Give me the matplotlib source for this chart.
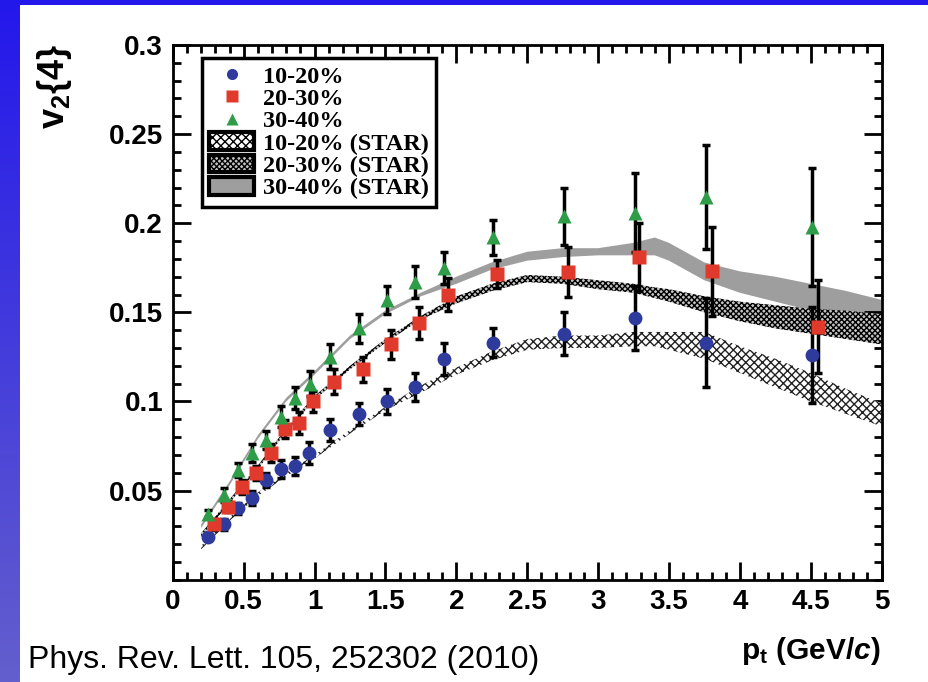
import numpy as np
import matplotlib
matplotlib.use('Agg')
import matplotlib.pyplot as plt
from matplotlib.lines import Line2D
from matplotlib.patches import Patch, Rectangle
from matplotlib.colors import LinearSegmentedColormap

# ---- data ----
pt_1020 = [0.25, 0.36, 0.46, 0.56, 0.66, 0.76, 0.86, 0.96, 1.11, 1.31, 1.51, 1.71, 1.91, 2.26, 2.76, 3.26, 3.76, 4.51]
v2_1020 = [0.024, 0.031, 0.040, 0.046, 0.056, 0.062, 0.064, 0.071, 0.084, 0.093, 0.100, 0.108, 0.124, 0.133, 0.138, 0.147, 0.133, 0.126]
err_1020 = [0.002, 0.003, 0.003, 0.004, 0.004, 0.005, 0.005, 0.006, 0.006, 0.006, 0.007, 0.008, 0.009, 0.008, 0.012, 0.018, 0.025, 0.027]

pt_2030 = [0.29, 0.39, 0.49, 0.59, 0.69, 0.79, 0.89, 0.99, 1.14, 1.34, 1.54, 1.74, 1.94, 2.29, 2.79, 3.29, 3.80, 4.55]
v2_2030 = [0.031, 0.041, 0.052, 0.060, 0.071, 0.0845, 0.088, 0.100, 0.111, 0.118, 0.132, 0.144, 0.160, 0.1715, 0.1725, 0.181, 0.173, 0.142]
err_2030 = [0.003, 0.003, 0.004, 0.004, 0.005, 0.005, 0.006, 0.006, 0.007, 0.007, 0.008, 0.009, 0.009, 0.008, 0.014, 0.019, 0.025, 0.026]

pt_3040 = [0.25, 0.36, 0.46, 0.56, 0.66, 0.76, 0.86, 0.97, 1.11, 1.31, 1.51, 1.71, 1.91, 2.26, 2.76, 3.26, 3.76, 4.51]
v2_3040 = [0.037, 0.0476, 0.0617, 0.071, 0.0785, 0.0914, 0.102, 0.110, 0.125, 0.141, 0.157, 0.167, 0.175, 0.192, 0.204, 0.206, 0.2147, 0.198]
err_3040 = [0.002, 0.004, 0.004, 0.005, 0.005, 0.006, 0.006, 0.007, 0.007, 0.008, 0.008, 0.009, 0.009, 0.010, 0.016, 0.022, 0.029, 0.033]

# STAR bands
star_pt = [0.2, 0.4, 0.6, 0.8, 1.0, 1.25, 1.5, 1.75, 2.0, 2.25, 2.5, 2.75, 3.0, 3.25, 3.4, 3.5, 3.75, 4.0, 4.25, 4.5, 4.75, 5.0]
star_1020_lo = [0.017, 0.033, 0.047, 0.058, 0.068, 0.082, 0.095, 0.105, 0.115, 0.123, 0.129, 0.130, 0.130, 0.131, 0.131, 0.129, 0.124, 0.116, 0.108, 0.100, 0.093, 0.086]
star_1020_hi = [0.019, 0.035, 0.049, 0.060, 0.070, 0.084, 0.097, 0.109, 0.119, 0.128, 0.135, 0.137, 0.137, 0.139, 0.139, 0.139, 0.139, 0.131, 0.124, 0.116, 0.107, 0.099]
star_2030_lo = [0.024, 0.043, 0.062, 0.083, 0.101, 0.118, 0.133, 0.146, 0.155, 0.162, 0.167, 0.166, 0.163, 0.161, 0.158, 0.156, 0.150, 0.145, 0.141, 0.138, 0.135, 0.132]
star_2030_hi = [0.026, 0.045, 0.064, 0.085, 0.103, 0.120, 0.135, 0.148, 0.159, 0.166, 0.171, 0.170, 0.168, 0.166, 0.164, 0.163, 0.159, 0.156, 0.154, 0.152, 0.151, 0.149]
star_3040_lo = [0.029, 0.053, 0.079, 0.100, 0.115, 0.135, 0.149, 0.159, 0.166, 0.174, 0.179, 0.181, 0.182, 0.182, 0.182, 0.179, 0.168, 0.161, 0.156, 0.151, 0.149, 0.147]
star_3040_hi = [0.031, 0.055, 0.081, 0.102, 0.117, 0.137, 0.151, 0.161, 0.170, 0.178, 0.184, 0.186, 0.186, 0.189, 0.192, 0.189, 0.178, 0.173, 0.170, 0.166, 0.162, 0.157]

x_ticks = [0, 0.5, 1, 1.5, 2, 2.5, 3, 3.5, 4, 4.5, 5]
x_labels = ['0', '0.5', '1', '1.5', '2', '2.5', '3', '3.5', '4', '4.5', '5']
y_ticks = [0.05, 0.1, 0.15, 0.2, 0.25, 0.3]
y_labels = ['0.05', '0.1', '0.15', '0.2', '0.25', '0.3']

plt.rcParams['font.family'] = ['Liberation Sans', 'DejaVu Sans']
plt.rcParams['mathtext.fontset'] = 'custom'
plt.rcParams['mathtext.rm'] = 'Liberation Sans:bold'
plt.rcParams['mathtext.it'] = 'Liberation Sans:bold:italic'
plt.rcParams['mathtext.bf'] = 'Liberation Sans:bold'
plt.rcParams['hatch.linewidth'] = 1.0

fig = plt.figure(figsize=(9.29, 6.82), dpi=100)

# slide background: blue gradient with white panel
bg = fig.add_axes([0, 0, 1, 1])
cmap = LinearSegmentedColormap.from_list('slide', ['#2318eb', '#645fcd'])
bg.imshow(np.linspace(0, 1, 256).reshape(-1, 1), aspect='auto', cmap=cmap,
          extent=[0, 1, 0, 1], origin='upper')
bg.add_patch(Rectangle((20 / 929, 0), 1, 1 - 5 / 682, facecolor='white', edgecolor='none'))
bg.set_xlim(0, 1)
bg.set_ylim(0, 1)
bg.axis('off')

ax = fig.add_axes([0.186, 0.150, 0.763, 0.784])

ax.fill_between(star_pt, star_3040_lo, star_3040_hi, facecolor='#9e9e9e', edgecolor='none', lw=0, zorder=1)
ax.fill_between(star_pt, star_2030_lo, star_2030_hi, facecolor='#c4c4c4', edgecolor='black',
                hatch='xxxxxx', lw=0, zorder=2)
ax.fill_between(star_pt, star_1020_lo, star_1020_hi, facecolor='white', edgecolor='#222222',
                hatch='xxxx', lw=0, zorder=2)

for pt, v2, err in [(pt_1020, v2_1020, err_1020), (pt_2030, v2_2030, err_2030), (pt_3040, v2_3040, err_3040)]:
    ax.errorbar(pt, v2, yerr=err, fmt='none', ecolor='black', elinewidth=2.5,
                capsize=3, capthick=2.5, zorder=3)

ax.plot(pt_1020, v2_1020, 'o', color='#2e3a9c', ms=10, mec='none', zorder=4)
ax.plot(pt_2030, v2_2030, 's', color='#e03a2c', ms=10, mec='none', zorder=4)
ax.plot(pt_3040, v2_3040, '^', color='#2f9c48', ms=10, mec='none', zorder=4)

ax.set_xlim(0, 5)
ax.set_ylim(0, 0.3)
ax.set_xticks(x_ticks)
ax.set_xticklabels(x_labels)
ax.set_yticks(y_ticks)
ax.set_yticklabels(y_labels)
ax.set_xticks(np.arange(0, 5.01, 0.1), minor=True)
ax.set_yticks(np.arange(0, 0.301, 0.01), minor=True)
ax.tick_params(which='both', direction='in', top=True, right=True, width=2)
ax.tick_params(which='major', length=13, labelsize=20, pad=7)
ax.tick_params(which='minor', length=6)
for lab in ax.get_xticklabels() + ax.get_yticklabels():
    lab.set_fontweight('bold')
for sp in ax.spines.values():
    sp.set_linewidth(2)

handles = [
    Line2D([], [], marker='o', color='#2e3a9c', ls='none', ms=8, mec='none'),
    Line2D([], [], marker='s', color='#e03a2c', ls='none', ms=8, mec='none'),
    Line2D([], [], marker='^', color='#2f9c48', ls='none', ms=8, mec='none'),
    Patch(facecolor='white', edgecolor='black', hatch='xxxx', lw=3),
    Patch(facecolor='#c4c4c4', edgecolor='black', hatch='xxxxxx', lw=3),
    Patch(facecolor='#9e9e9e', edgecolor='black', lw=3),
]
labels = ['10-20%', '20-30%', '30-40%', '10-20% (STAR)', '20-30% (STAR)', '30-40% (STAR)']
leg = ax.legend(handles, labels, loc='upper left', bbox_to_anchor=(0.041, 0.976),
                prop={'family': 'Liberation Serif', 'weight': 'bold', 'size': 17.5},
                frameon=True, fancybox=False, framealpha=1, edgecolor='black',
                handlelength=1.85, handleheight=0.75, labelspacing=0.0,
                borderpad=0.3, handletextpad=0.35, borderaxespad=0)
leg.get_frame().set_linewidth(2.5)

fig.text(0.059, 0.873, r'v$_\mathrm{2}${4}', rotation=90, ha='center', va='center',
         fontsize=26, fontweight='bold')
fig.text(0.948, 0.045, r'p$_\mathrm{t}$ (GeV/$c$)', ha='right', va='center',
         fontsize=21.5, fontweight='bold')
fig.text(0.030, 0.032, 'Phys. Rev. Lett. 105, 252302 (2010)', ha='left', va='center',
         fontsize=23)

fig.savefig('out.png', dpi=100)
